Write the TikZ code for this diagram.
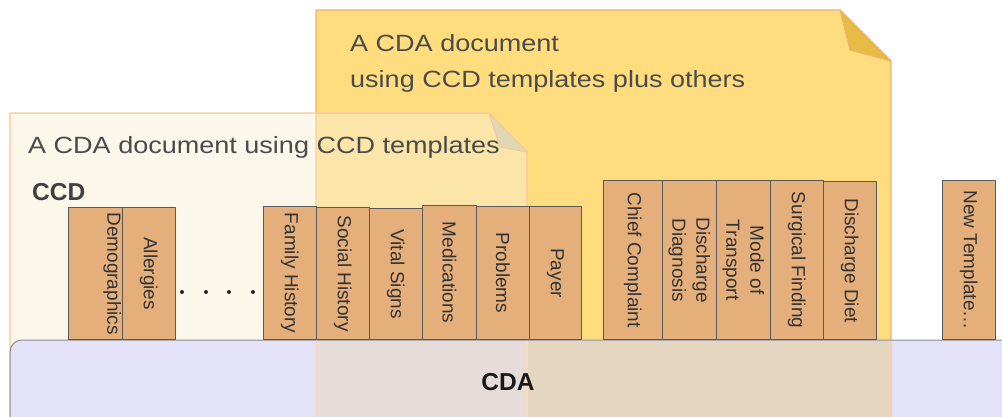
\documentclass[tikz,border=0pt]{standalone}
\usepackage{fontspec}
\setmainfont{Liberation Sans}
\newfontfamily\titlefont[FakeStretch=1.15]{Liberation Sans}
\usetikzlibrary{positioning}
\definecolor{docyellow}{RGB}{255,220,125}
\definecolor{docyellowfold}{RGB}{230,187,70}
\definecolor{doccream}{RGB}{248,239,214}
\definecolor{doccreamfold}{RGB}{224,215,183}
\definecolor{docedge}{RGB}{240,178,105}
\definecolor{cdabar}{RGB}{227,226,249}
\definecolor{cdamixa}{RGB}{230,221,218}
\definecolor{cdamixb}{RGB}{229,214,194}
\definecolor{tmplfill}{RGB}{229,175,123}
\definecolor{textgrey}{RGB}{75,75,75}
\tikzset{
  tmpl/.style={draw=black!65, fill=tmplfill, line width=0.8pt, inner sep=0pt, anchor=south west},
  tmpltext/.style={rotate=-90, align=center, text=black!80, font=\fontsize{19}{24}\selectfont, inner sep=0pt},
  doctitle/.style={text=textgrey, font=\titlefont\fontsize{23.5}{36}\selectfont, inner sep=0pt, anchor=base west, align=left},
  docline/.style={draw=docedge, line width=1.2pt}
}
\begin{document}
\begin{tikzpicture}[x=1pt, y=-1pt, line join=round]
\useasboundingbox (0,0) rectangle (1002,416);
\clip (0,0) rectangle (1002,416);
% document with extra templates
\fill[docyellow] (316,430) -- (316,10) -- (840,10) -- (891,61) -- (891,430) -- cycle;
\draw[docline] (316,430) -- (316,10) -- (840,10) -- (891,61) -- (891,430);
\filldraw[fill=docyellowfold, docline, line width=1pt] (840,10) -- (850,50) -- (891,61) -- cycle;
% document with CCD templates only
\fill[doccream, fill opacity=0.5] (10,430) -- (10,113) -- (489,113) -- (527,152) -- (527,430) -- cycle;
\draw[docline, draw=docedge!70] (10,430) -- (10,113) -- (489,113) -- (527,152) -- (527,430);
\filldraw[fill=doccreamfold, docline, draw=docedge!70, line width=1pt] (489,113) -- (500,147) -- (527,152) -- cycle;
% CDA base
\filldraw[fill=cdabar, draw=black!45, line width=1pt, rounded corners=12pt] (10,440) -- (10,340) -- (1020,340) -- (1020,440);
\fill[cdamixa] (316,340.6) rectangle (527,430);
\fill[cdamixb] (527,340.6) rectangle (891,430);
\draw[docline, draw=docedge!45] (316,340.6) -- (316,430);
\draw[docline, draw=docedge!45] (527,340.6) -- (527,430);
\draw[docline, draw=docedge!60] (891,340.6) -- (891,430);
\node[font=\bfseries\fontsize{24.5}{28}\selectfont, text=black!90, inner sep=0pt] (cda) at (508,382) {CDA};
% titles
\node[doctitle] (ccdtitle) at (28,153) {A CDA document using CCD templates};
\node[doctitle] (moretitle) at (350,87) {A CDA document\\using CCD templates plus others};
\node[font=\bfseries\fontsize{24.5}{28}\selectfont, text=black!75, inner sep=0pt, anchor=base west] (ccd) at (32,200) {CCD};
% templates
\foreach \n/\x/\w/\t/\dx/\lbl in {
  dem/68/54/208/17/Demographics,
  all/122/53/208/0/Allergies,
  fam/263/53/207/0/Family History,
  soc/316/53/208/0/Social History,
  vit/369/53/209/0/Vital Signs,
  med/422/54/206/0/Medications,
  pro/476/53/207/0/Problems,
  pay/529/52/207/0/Payer,
  chf/603/59/181/0/Chief Complaint,
  dgn/662/54/181/0/{Discharge\\Diagnosis},
  mot/716/54/181/0/{Mode of\\Transport},
  sur/770/53/181/0/Surgical Finding,
  det/823/53/182/0/Discharge Diet,
  new/942/53/181/0/{New Template\ldots}}
{
  \node[tmpl, minimum width=\w pt, minimum height={(340-\t)*1pt}] (\n) at (\x,340) {};
  \node[tmpltext] (\n-l) at ([xshift=\dx pt]\n.center) {\lbl};
}
% dots between the templates
\foreach \x in {182,206,229,253}
  \fill[black!85] (\x,292) circle (2pt);
\end{tikzpicture}
\end{document}
